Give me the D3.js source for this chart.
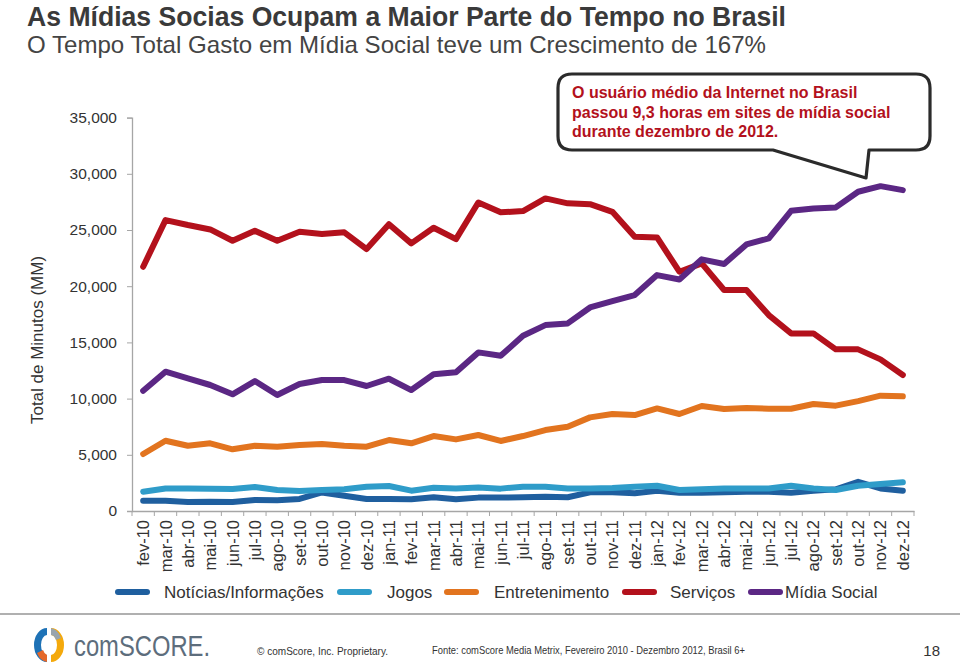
<!DOCTYPE html>
<html><head><meta charset="utf-8">
<script src="https://cdn.jsdelivr.net/npm/d3@7"></script>
<style>
html,body{margin:0;padding:0;background:#fff;}
svg{display:block;font-family:"Liberation Sans",Arial,sans-serif;}
</style></head>
<body>
<svg id="chart" width="960" height="664"></svg>
<script>
const categories = ["fev-10","mar-10","abr-10","mai-10","jun-10","jul-10","ago-10","set-10","out-10","nov-10","dez-10","jan-11","fev-11","mar-11","abr-11","mai-11","jun-11","jul-11","ago-11","set-11","out-11","nov-11","dez-11","jan-12","fev-12","mar-12","abr-12","mai-12","jun-12","jul-12","ago-12","set-12","out-12","nov-12","dez-12"];
const noticias = [920,920,800,830,800,980,950,1070,1650,1350,1070,1070,1040,1220,1040,1190,1190,1220,1270,1220,1660,1660,1570,1800,1630,1630,1660,1720,1720,1630,1800,1930,2600,2010,1800];
const jogos = [1720,2010,2010,1980,1960,2130,1870,1780,1870,1930,2160,2220,1810,2070,2010,2100,1990,2160,2160,2010,2010,2050,2160,2250,1870,1930,2010,2010,2010,2250,2010,1870,2250,2400,2550];
const entretenimento = [5070,6250,5810,6020,5490,5810,5720,5870,5960,5810,5720,6310,6020,6670,6370,6760,6230,6670,7200,7500,8330,8630,8540,9130,8630,9340,9070,9160,9100,9100,9520,9370,9780,10260,10200];
const servicos = [21730,25880,25440,25050,24040,24930,24040,24840,24640,24790,23300,25520,23810,25200,24190,27450,26570,26680,27810,27370,27300,26620,24400,24340,21290,22030,19660,19660,17430,15800,15800,14380,14380,13490,12100];
const midiaSocial = [10700,12390,11800,11210,10380,11560,10320,11300,11650,11650,11120,11770,10760,12160,12340,14110,13810,15590,16540,16690,18110,18680,19210,20990,20600,22390,21970,23720,24250,26710,26920,27010,28400,28900,28550];
const seriesNames = ["Notícias/Informações","Jogos","Entretenimento","Serviços","Mídia Social"];
const seriesColors = ["#1f5f9f","#2f9cc9","#e2741f","#b3111c","#5b2784"];
const yTicks = [0,5000,10000,15000,20000,25000,30000,35000];

const seriesData = [noticias, jogos, entretenimento, servicos, midiaSocial];
const svg = d3.select("#chart");

// Titles
svg.append("text").attr("x",27).attr("y",26).attr("font-size",28).attr("font-weight","bold")
  .attr("fill","#3a3a3a").attr("textLength",759).attr("lengthAdjust","spacingAndGlyphs")
  .text("As Mídias Socias Ocupam a Maior Parte do Tempo no Brasil");
svg.append("text").attr("x",27).attr("y",53).attr("font-size",24)
  .attr("fill","#444").attr("textLength",739).attr("lengthAdjust","spacingAndGlyphs")
  .text("O Tempo Total Gasto em Mídia Social teve um Crescimento de 167%");

// Scales
const x = d3.scaleBand().domain(categories).range([132,914]).padding(0);
const y = d3.scaleLinear().domain([0,35000]).range([511,117.6]);
const cx = d => x(d) + x.bandwidth()/2;

// Y axis
const yAxis = svg.append("g").attr("transform","translate(132,0)")
  .call(d3.axisLeft(y).tickValues(yTicks).tickSize(5).tickPadding(10).tickFormat(d3.format(",")));
yAxis.select(".domain").attr("stroke","#a6a6a6").attr("stroke-width",1.3);
yAxis.selectAll(".tick line").attr("stroke","#a6a6a6");
yAxis.selectAll(".tick text").attr("font-size",15.5).attr("fill","#333").attr("font-family","Liberation Sans, Arial, sans-serif");

// X axis
const xAxis = svg.append("g").attr("transform","translate(0,511)")
  .call(d3.axisBottom(x).tickSize(0).tickPadding(0));
xAxis.select(".domain").attr("stroke","#a6a6a6").attr("stroke-width",1.3);
xAxis.selectAll(".tick text").attr("font-size",16.5).attr("fill","#333")
  .attr("font-family","Liberation Sans, Arial, sans-serif")
  .attr("text-anchor","end").attr("transform","translate(6,9) rotate(-90)").attr("dy","0").attr("y",0);
const bounds = categories.map(c => x(c)).concat([x(categories[categories.length-1]) + x.bandwidth()]);
svg.append("g").selectAll("line").data(bounds).join("line")
  .attr("x1",d=>d).attr("x2",d=>d).attr("y1",511).attr("y2",516)
  .attr("stroke","#a6a6a6").attr("stroke-width",1);

// Y label
svg.append("text").attr("transform","translate(43,340) rotate(-90)").attr("text-anchor","middle")
  .attr("font-size",17).attr("fill","#333").text("Total de Minutos (MM)");

// Lines
const line = d3.line().x((d,i)=>cx(categories[i])).y(d=>y(d));
seriesData.forEach((s,k)=>{
  svg.append("path").datum(s).attr("d",line).attr("fill","none")
    .attr("stroke",seriesColors[k]).attr("stroke-width",6)
    .attr("stroke-linejoin","round").attr("stroke-linecap","round");
});

// Callout
const callout = svg.append("g");
callout.append("path")
  .attr("d","M572,74 H916 Q930,74 930,88 V136 Q930,150 916,150 H869 L866,178 L773,150 H572 Q558,150 558,136 V88 Q558,74 572,74 Z")
  .attr("fill","#fff").attr("stroke","#2b2b2b").attr("stroke-width",3.2).attr("stroke-linejoin","round");
const calloutLines = ["O usuário médio da Internet no Brasil","passou 9,3 horas em sites de mídia social","durante dezembro de 2012."];
callout.selectAll("text").data(calloutLines).join("text")
  .attr("x",572).attr("y",(d,i)=>98+i*19.5).attr("font-size",16).attr("font-weight","bold")
  .attr("fill","#b3111c").text(d=>d);

// Legend
const legendItems = [
  {sx:115, tx:164},{sx:337, tx:387},{sx:444, tx:494},{sx:622, tx:670},{sx:748, tx:785}
];
const lg = svg.append("g");
legendItems.forEach((it,k)=>{
  lg.append("line").attr("x1",it.sx+3).attr("x2",it.sx+32).attr("y1",592).attr("y2",592)
    .attr("stroke",seriesColors[k]).attr("stroke-width",6).attr("stroke-linecap","round");
  lg.append("text").attr("x",it.tx).attr("y",598).attr("font-size",17).attr("fill","#333").text(seriesNames[k]);
});

// Footer separator
svg.append("line").attr("x1",0).attr("x2",960).attr("y1",614).attr("y2",614)
  .attr("stroke","#b0b0b0").attr("stroke-width",2);

// Logo mark
const logo = svg.append("g").attr("transform","translate(49,645)");
logo.append("path").attr("d","M-2,-17 A13,17 0 0 0 -2,17 L-2,10 A6,10 0 0 1 -2,-10 Z").attr("fill","#1e72b6");
logo.append("path").attr("d","M-2,17 A13,17 0 0 1 -12,8 L-6,5 A6,10 0 0 0 -2,10 Z").attr("fill","#e4682a");
logo.append("path").attr("d","M2,-17 A13,17 0 0 1 2,17 L2,10 A6,10 0 0 0 2,-10 Z").attr("fill","#f4a90c");
logo.append("path").attr("d","M2,-17 A13,17 0 0 1 12,-7 L7,-5 A6,10 0 0 0 2,-10 Z").attr("fill","#9aa5ae");
svg.append("text").attr("transform","translate(74,656) scale(0.82,1)").attr("font-size",29).attr("fill","#5d6d7c")
  .text("comSCORE.");

svg.append("text").attr("x",257).attr("y",655).attr("font-size",11).attr("fill","#333")
  .attr("textLength",131).attr("lengthAdjust","spacingAndGlyphs").text("© comScore, Inc.   Proprietary.");
svg.append("text").attr("x",432).attr("y",654).attr("font-size",11).attr("fill","#333")
  .attr("textLength",313).attr("lengthAdjust","spacingAndGlyphs").text("Fonte: comScore Media Metrix,  Fevereiro 2010 - Dezembro 2012, Brasil 6+");
svg.append("text").attr("x",940).attr("y",656).attr("font-size",15).attr("fill","#333").attr("text-anchor","end").text("18");
</script>
</body></html>
